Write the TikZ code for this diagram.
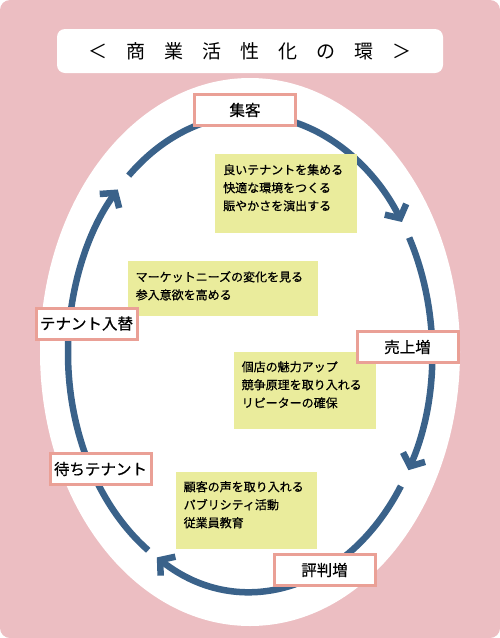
\documentclass[tikz,border=0pt]{standalone}
\usepackage{fontspec}
\usetikzlibrary{arrows.meta}
\newfontfamily\jpfont{Noto Sans CJK JP}
\newfontfamily\jpmed{Noto Sans CJK JP}[FakeBold=0.6]
\definecolor{bgpink}{HTML}{ECBEC2}
\definecolor{ringblue}{HTML}{3A628A}
\definecolor{boxedge}{HTML}{EAA096}
\definecolor{noteyellow}{HTML}{EAEC9C}
\begin{document}
\begin{tikzpicture}[x=1pt,y=-1pt]
\tikzstyle{every node}+=[inner sep=0pt]
\tikzstyle{stagebox}=[draw=boxedge, line width=3pt, fill=white, minimum width=101pt, minimum height=31pt, font=\jpmed\fontsize{15.5}{18}\selectfont]
\tikzstyle{notebox}=[fill=noteyellow, anchor=north west]
\tikzstyle{notetext}=[anchor=north west, align=left, font=\jpmed\fontsize{12}{18}\selectfont]
\tikzstyle{ringarrow}=[draw=ringblue, line width=6.5pt, -{Straight Barb[length=10pt,width=24pt]}]
\useasboundingbox (0,0) rectangle (500,638);
\fill [bgpink, rounded corners=10pt] (0,0) rectangle (500,638);
\fill [white] (250,352) ellipse [x radius=210, y radius=274];
\node [fill=white, rounded corners=8pt, minimum width=386pt, minimum height=44pt, font=\jpfont\fontsize{19}{19}\selectfont] (title) at (250,51) {＜　商　業　活　性　化　の　環　＞};
\coordinate (ring) at (250,353);
\draw [ringarrow] (ring) ++(-131.8:182 and 238) arc [start angle=-131.8, end angle=-33.4, x radius=182, y radius=238];
\draw [ringarrow] (ring) ++(-29:182 and 238) arc [start angle=-29, end angle=29.5, x radius=182, y radius=238];
\draw [ringarrow] (ring) ++(34:182 and 238) arc [start angle=34, end angle=120.8, x radius=182, y radius=238];
\draw [ringarrow] (ring) ++(124:182 and 238) arc [start angle=124, end angle=223.4, x radius=182, y radius=238];
\node [notebox, minimum width=142pt, minimum height=79pt] (note1) at (215,154) {};
\node [notetext] (text1) at ([shift={(8,10)}]note1.north west) {良いテナントを集める\\快適な環境をつくる\\賑やかさを演出する};
\node [notebox, minimum width=190pt, minimum height=55pt] (note2) at (128,261) {};
\node [notetext] (text2) at ([shift={(7.5,10)}]note2.north west) {マーケットニーズの変化を見る\\参入意欲を高める};
\node [notebox, minimum width=142pt, minimum height=77pt] (note3) at (234,352) {};
\node [notetext] (text3) at ([shift={(7.5,9)}]note3.north west) {個店の魅力アップ\\競争原理を取り入れる\\リピーターの確保};
\node [notebox, minimum width=141pt, minimum height=77pt] (note4) at (176,472) {};
\node [notetext] (text4) at ([shift={(7.5,9)}]note4.north west) {顧客の声を取り入れる\\パブリシティ活動\\従業員教育};
\node [stagebox] (shuukyaku) at (245,110) {集客};
\node [stagebox] (uriage) at (407.5,347) {売上増};
\node [stagebox] (hyouban) at (324.5,570) {評判増};
\node [stagebox] (irekae) at (86.5,323.5) {テナント入替};
\node [stagebox] (machi) at (100.5,469) {待ちテナント};
\end{tikzpicture}
\end{document}
